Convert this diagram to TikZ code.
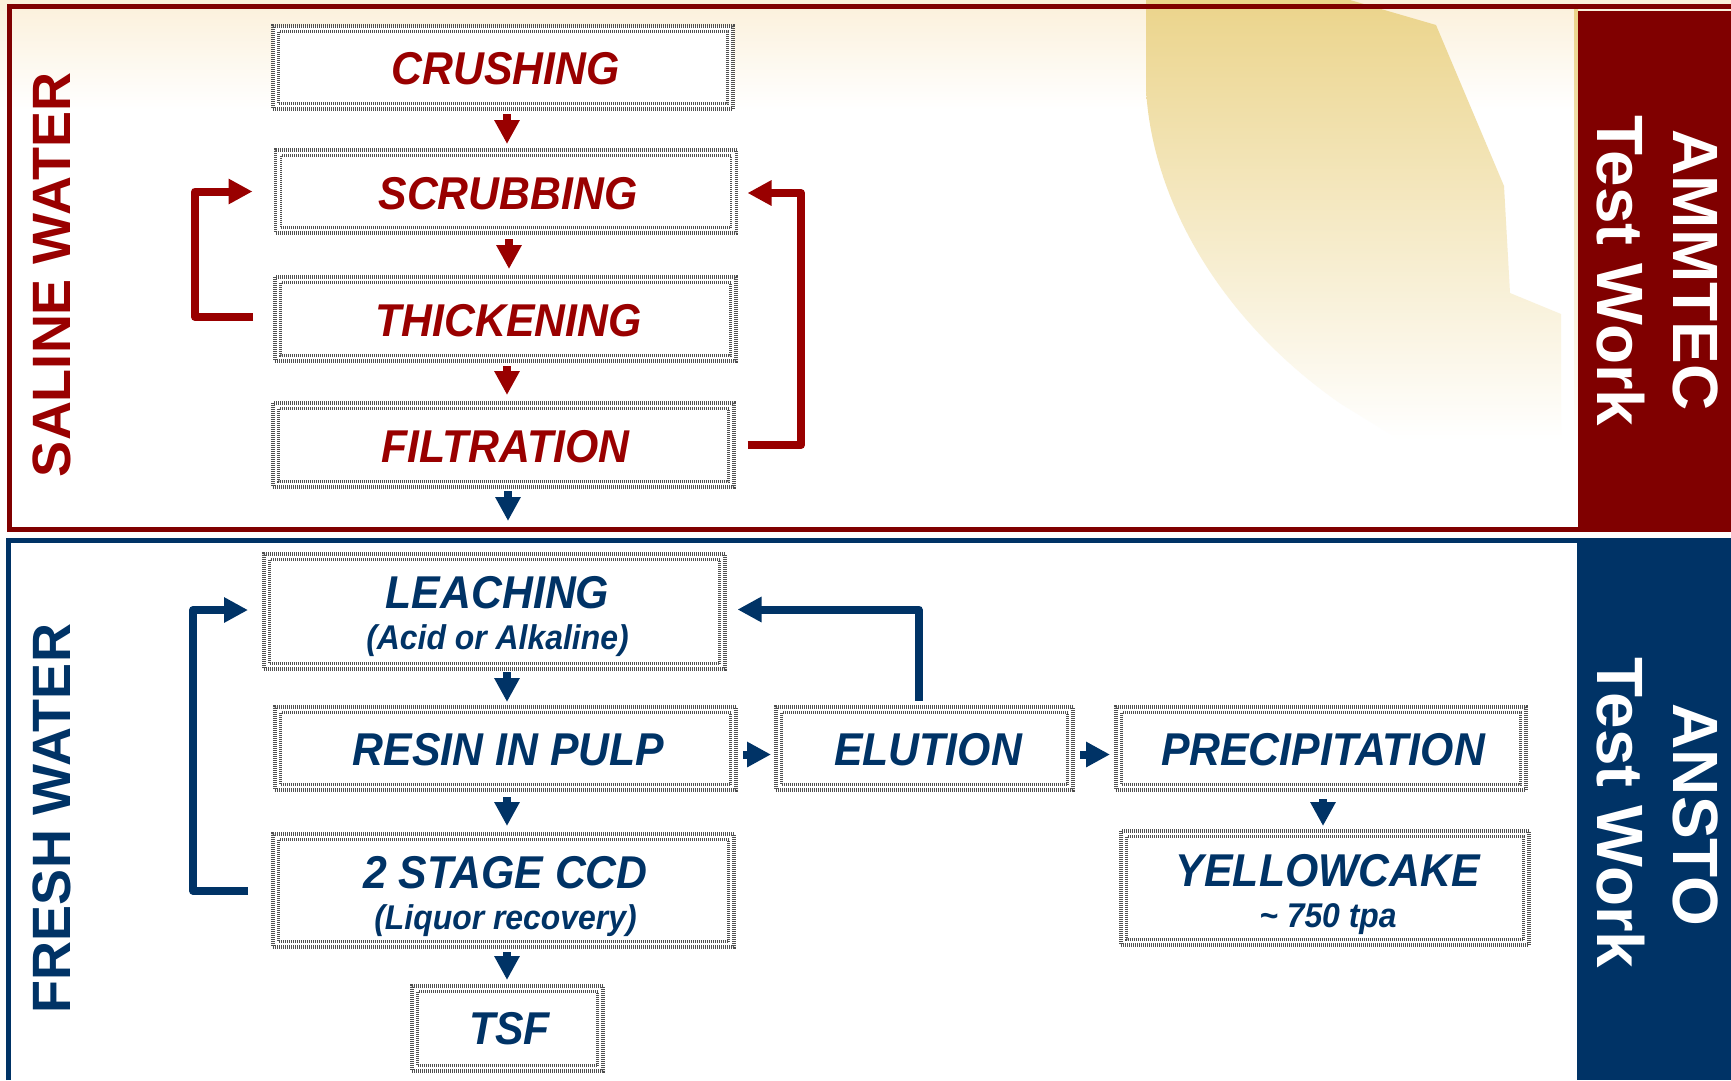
\documentclass[tikz,border=0pt]{standalone}
\usepackage{fontspec}
\setmainfont{Liberation Sans}
\newfontfamily\boxfont[FakeStretch=0.93]{Liberation Sans}
\usetikzlibrary{arrows.meta,calc}
\definecolor{frameRed}{HTML}{800000}
\definecolor{textRed}{HTML}{990000}
\definecolor{deepBlue}{HTML}{003366}
\definecolor{boxDots}{HTML}{505050}
\definecolor{sand}{HTML}{EBD48B}
\definecolor{paleSand}{HTML}{FBF0DA}
\tikzset{
  x=1pt,y=-1pt,
  flowbox/.style 2 args={fill=white,draw=boxDots,line width=3.4pt,dash pattern=on 1pt off 1pt,
    minimum width=#1,minimum height=#2,inner sep=0pt,outer sep=0pt,
    font=\boxfont\fontsize{46}{50}\selectfont\bfseries\itshape,
    path picture={\draw[draw=boxDots,line width=2.4pt,dash pattern=on 1pt off 1pt]
       ([xshift=5.5pt,yshift=-5.5pt]path picture bounding box.north west) rectangle
       ([xshift=-5.5pt,yshift=5.5pt]path picture bounding box.south east);}},
  redtext/.style={text=textRed},
  bluetext/.style={text=deepBlue},
  redflow/.style={draw=textRed,line width=8pt,line join=round,-{Triangle[length=24pt,width=24pt]}},
  blueflow/.style={draw=deepBlue,line width=8pt,line join=round,-{Triangle[length=24pt,width=24pt]}},
  sidelabel/.style={font=\fontsize{54}{58}\selectfont\bfseries,rotate=90,inner sep=0pt},
  barlabel/.style={font=\fontsize{64}{70}\selectfont\bfseries,rotate=-90,text=white,inner sep=0pt},
  barwork/.style={barlabel,font=\fontsize{65.5}{70}\selectfont\bfseries},
}
\newcommand{\nudge}[3]{\raisebox{-#2}[\height][\depth]{\kern#1\kern#1\relax #3}}
\newcommand{\twolines}[2]{\begin{tabular}{@{}c@{}}#1\\[-9pt]{\fontsize{34.3}{38}\selectfont #2}\end{tabular}}
\begin{document}
\begin{tikzpicture}
\useasboundingbox (0,0) rectangle (1731,1080);
% backdrop
\fill[white] (0,0) rectangle (1731,1080);
\shade[top color=paleSand,bottom color=white] (0,0) rectangle (1731,110);
\shade[top color=sand,bottom color=white,draw=none]
  (1146,0) -- (1146,89) .. controls (1152,200) and (1220,320) .. (1341,404)
  -- (1400,440) -- (1561,440) -- (1561,314) -- (1510,293) -- (1504,186) -- (1436,25) -- (1350,0) -- cycle;
\shade[top color=sand,bottom color=white,draw=none] (1574,9) rectangle (1578,440);
% frames and bars
\fill[frameRed] (1578,11) rectangle (1731,532);
\fill[deepBlue] (1577,538) rectangle (1731,1080);
\draw[frameRed,line width=5pt] (1731,6.5) -- (9.5,6.5) -- (9.5,529.5) -- (1731,529.5);
\draw[deepBlue,line width=5pt] (8.5,1080) -- (8.5,540.5) -- (1577,540.5);
% side labels
\node[sidelabel,text=textRed] (saline) at (52,275) {SALINE WATER};
\node[sidelabel,text=deepBlue] (fresh) at (52,818.5) {FRESH WATER};
\node[barlabel] (ammtec) at (1696,270) {AMMTEC};
\node[barwork] (amwork) at (1621,271) {Test Work};
\node[barlabel] (ansto) at (1696,815) {ANSTO};
\node[barwork] (anwork) at (1621,813) {Test Work};
% boxes
\node[flowbox={460pt}{83pt},redtext] (crush) at (503,67.5) {\nudge{2.5pt}{1.5pt}{CRUSHING}};
\node[flowbox={461pt}{83pt},redtext] (scrub) at (506,191.5) {\nudge{2pt}{2pt}{SCRUBBING}};
\node[flowbox={461pt}{84pt},redtext] (thick) at (505.5,319) {\nudge{3pt}{2pt}{THICKENING}};
\node[flowbox={461pt}{84pt},redtext] (filt) at (503.5,445) {\nudge{2pt}{2pt}{FILTRATION}};
\node[flowbox={461pt}{115pt},bluetext] (leach) at (494.5,611.5) {\nudge{3pt}{7.5pt}{\twolines{LEACHING}{(Acid or Alkaline)}}};
\node[flowbox={461pt}{83pt},bluetext] (rip) at (505.5,748.5) {\nudge{3pt}{1pt}{RESIN IN PULP}};
\node[flowbox={297pt}{83pt},bluetext] (elution) at (924.5,748.5) {\nudge{3.5pt}{1pt}{ELUTION}};
\node[flowbox={410pt}{83pt},bluetext] (precip) at (1321,748.5) {\nudge{2pt}{1pt}{PRECIPITATION}};
\node[flowbox={461pt}{113pt},bluetext] (ccd) at (503.5,890.5) {\nudge{2pt}{8pt}{\twolines{2 STAGE CCD}{(Liquor recovery)}}};
\node[flowbox={408pt}{114pt},bluetext] (yellow) at (1325,888) {\nudge{3pt}{8.5pt}{\twolines{YELLOWCAKE}{\textasciitilde\ 750 tpa}}};
\node[flowbox={191pt}{85pt},bluetext] (tsf) at (507.5,1028.5) {\nudge{2pt}{0pt}{TSF}};
% turning points of the recycle lines
\coordinate (bendA) at (195,191.5);
\coordinate (bendB) at (801,193);
\coordinate (bendC) at (193,610);
\coordinate (bendD) at (918.5,609.5);
% downward flow
\draw[redflow,shorten <=5pt,shorten >=6pt] ([xshift=4pt]crush.south) -- ([xshift=1pt]scrub.north);
\draw[redflow,shorten <=6pt,shorten >=8pt] ([xshift=3pt]scrub.south) -- ([xshift=3.5pt]thick.north);
\draw[redflow,shorten <=5pt,shorten >=8pt] ([xshift=1.5pt]thick.south) -- ([xshift=3.5pt]filt.north);
\draw[blueflow,shorten <=4pt,shorten >=33pt] ([xshift=4.5pt]filt.south) -- ([xshift=13.5pt]leach.north);
\draw[blueflow,shorten <=3pt,shorten >=5pt] ([xshift=12.5pt]leach.south) -- ([xshift=1.5pt]rip.north);
\draw[blueflow,shorten <=7pt,shorten >=8pt] ([xshift=1.5pt]rip.south) -- ([xshift=3.5pt]ccd.north);
\draw[blueflow,shorten <=5pt,shorten >=6pt] ([xshift=3.5pt]ccd.south) -- ([xshift=-0.5pt]tsf.north);
\draw[blueflow,shorten <=9pt,shorten >=5pt] ([xshift=2pt]precip.south) -- ([xshift=-2pt]yellow.north);
% sideways flow
\draw[blueflow,shorten <=7pt,shorten >=5pt] ([yshift=-6pt]rip.east) -- ([yshift=-6pt]elution.west);
\draw[blueflow,shorten <=7pt,shorten >=6pt] ([yshift=-6pt]elution.east) -- ([yshift=-6pt]precip.west);
% recycle lines
\draw[redflow,shorten <=22pt,shorten >=23pt] ([yshift=2pt]thick.west) -| (bendA) -- (scrub.west);
\draw[redflow,shorten <=13.5pt,shorten >=11pt] (filt.east) -| (bendB) -- ([yshift=-1.5pt]scrub.east);
\draw[blueflow,shorten <=25pt,shorten >=16pt] (ccd.west) -| (bendC) -- ([yshift=1.5pt]leach.west);
\draw[blueflow,shorten <=6pt,shorten >=12.5pt] ([xshift=-6pt]elution.north) |- (bendD) -- ([yshift=2pt]leach.east);
\end{tikzpicture}
\end{document}
